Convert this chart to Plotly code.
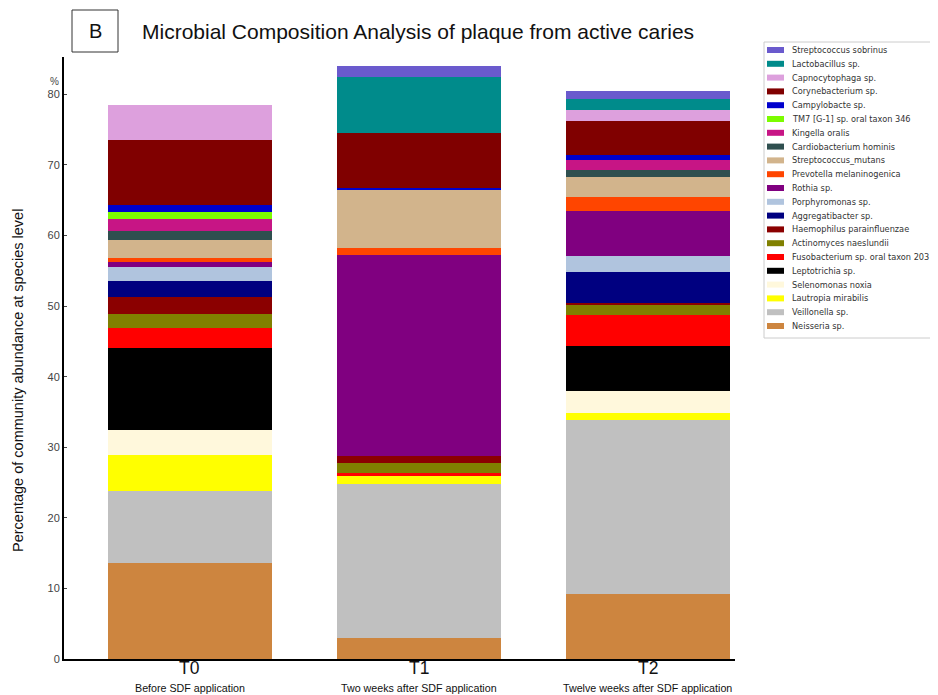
import plotly.graph_objects as go

categories = ["T0", "T1", "T2"]
subtitles = ["Before SDF application", "Two weeks after SDF application", "Twelve weeks after SDF application"]

# stacking order: bottom -> top
species = [
    "Neisseria sp.", "Veillonella sp.", "Lautropia mirabilis", "Selenomonas noxia",
    "Leptotrichia sp.", "Fusobacterium sp. oral taxon 203", "Actinomyces naeslundii",
    "Haemophilus parainfluenzae", "Aggregatibacter sp.", "Porphyromonas sp.", "Rothia sp.",
    "Prevotella melaninogenica", "Streptococcus_mutans", "Cardiobacterium hominis",
    "Kingella oralis", "TM7 [G-1] sp. oral taxon 346", "Campylobacte sp.",
    "Corynebacterium sp.", "Capnocytophaga sp.", "Lactobacillus sp.", "Streptococcus sobrinus",
]
colors = [
    "#CD853F", "#C0C0C0", "#FFFF00", "#FFF8DC", "#000000", "#FF0000", "#808000",
    "#8B0000", "#000080", "#B0C4DE", "#800080", "#FF4500", "#D2B48C", "#2F4F4F",
    "#C71585", "#7CFC00", "#0000CD", "#800000", "#DDA0DD", "#008B8B", "#6A5ACD",
]

t0 = [13.6, 10.2, 5.1, 3.5, 11.7, 2.8, 2.0, 2.4, 2.2, 2.0, 0.7, 0.6, 2.6, 1.3, 1.6, 1.1, 1.0, 9.1, 5.0, 0.0, 0.0]
t1 = [3.0, 21.8, 1.2, 0.0, 0.0, 0.3, 1.5, 0.9, 0.0, 0.0, 28.5, 1.0, 8.2, 0.0, 0.0, 0.0, 0.4, 7.7, 0.0, 8.0, 1.5]
t2 = [9.2, 24.7, 1.0, 3.1, 6.3, 4.5, 1.3, 0.4, 4.4, 2.2, 6.4, 2.0, 2.8, 1.0, 1.4, 0.0, 0.7, 4.9, 1.5, 1.5, 1.2]

y_ticks = [0, 10, 20, 30, 40, 50, 60, 70, 80]

# page body has an 8px margin: work in screenshot pixels and shift
OFF = 8
W, H = 938 - OFF, 695 - OFF
L, R, T, B = 64 - OFF, 735 - OFF, 57 - OFF, 659 - OFF


def px(x):
    return (x - OFF - L) / (R - L)


def py(y):
    return (B - (y - OFF)) / (B - T)


fig = go.Figure()
for i, name in enumerate(species):
    fig.add_trace(go.Bar(
        x=categories, y=[t0[i], t1[i], t2[i]], name=name,
        marker=dict(color=colors[i], line=dict(width=0)),
        width=0.72, showlegend=False,
    ))

fig.update_layout(
    width=W, height=H,
    margin=dict(l=L, r=W - R, t=T, b=H - B, autoexpand=False),
    barmode="stack", bargap=0.28,
    plot_bgcolor="white", paper_bgcolor="white",
    font=dict(family="Liberation Sans", color="#222"),
    xaxis=dict(
        range=[-0.55, 2.38], showticklabels=False, automargin=False,
        showline=True, linecolor="black", linewidth=2, ticks="", showgrid=False,
    ),
    yaxis=dict(
        range=[0, 85.3], tickvals=y_ticks, showline=True, linecolor="black", linewidth=2,
        ticks="inside", ticklen=3, showgrid=False, zeroline=False, automargin=False,
        tickfont=dict(size=11, color="#444", family="Liberation Sans"),
    ),
)


def note(text, x, y, size, color="#111", family="Liberation Sans", xanchor="center", angle=0, xref="paper"):
    fig.add_annotation(text=text, xref=xref, yref="paper", x=x, y=y, xanchor=xanchor,
                       yanchor="middle", textangle=angle, showarrow=False,
                       font=dict(size=size, color=color, family=family))


# category labels
for c, s in zip(categories, subtitles):
    note(c, c, py(668), 17.5, xref="x")
    note(s, c, py(688), 10.7, xref="x")

# title, panel letter, axis labels
note("Microbial Composition Analysis of plaque from active caries", px(140), py(31), 21, xanchor="left")
fig.add_shape(type="rect", xref="paper", yref="paper", x0=px(72), x1=px(118), y0=py(10), y1=py(52),
              line=dict(color="#333", width=1))
note("B", px(95), py(31), 20)
note("Percentage of community abundance at species level", px(18), py(381), 14.5, angle=-90)
note("%", px(54), py(81), 10, color="#444")

# legend box (drawn from the same species/colors lists, top entry = last stacked series)
fig.add_shape(type="rect", xref="paper", yref="paper", x0=px(764), x1=px(945), y0=py(42), y1=py(338),
              line=dict(color="#cccccc", width=1), fillcolor="white", layer="below")
for k, i in enumerate(range(len(species) - 1, -1, -1)):
    yc = 50 + k * 13.8
    fig.add_shape(type="rect", xref="paper", yref="paper", x0=px(767), x1=px(784),
                  y0=py(yc - 3), y1=py(yc + 3), line=dict(width=0), fillcolor=colors[i])
    note(species[i], px(790), py(yc), 8.2, color="#333", family="DejaVu Sans", xanchor="left")

fig.write_html("out.html")
